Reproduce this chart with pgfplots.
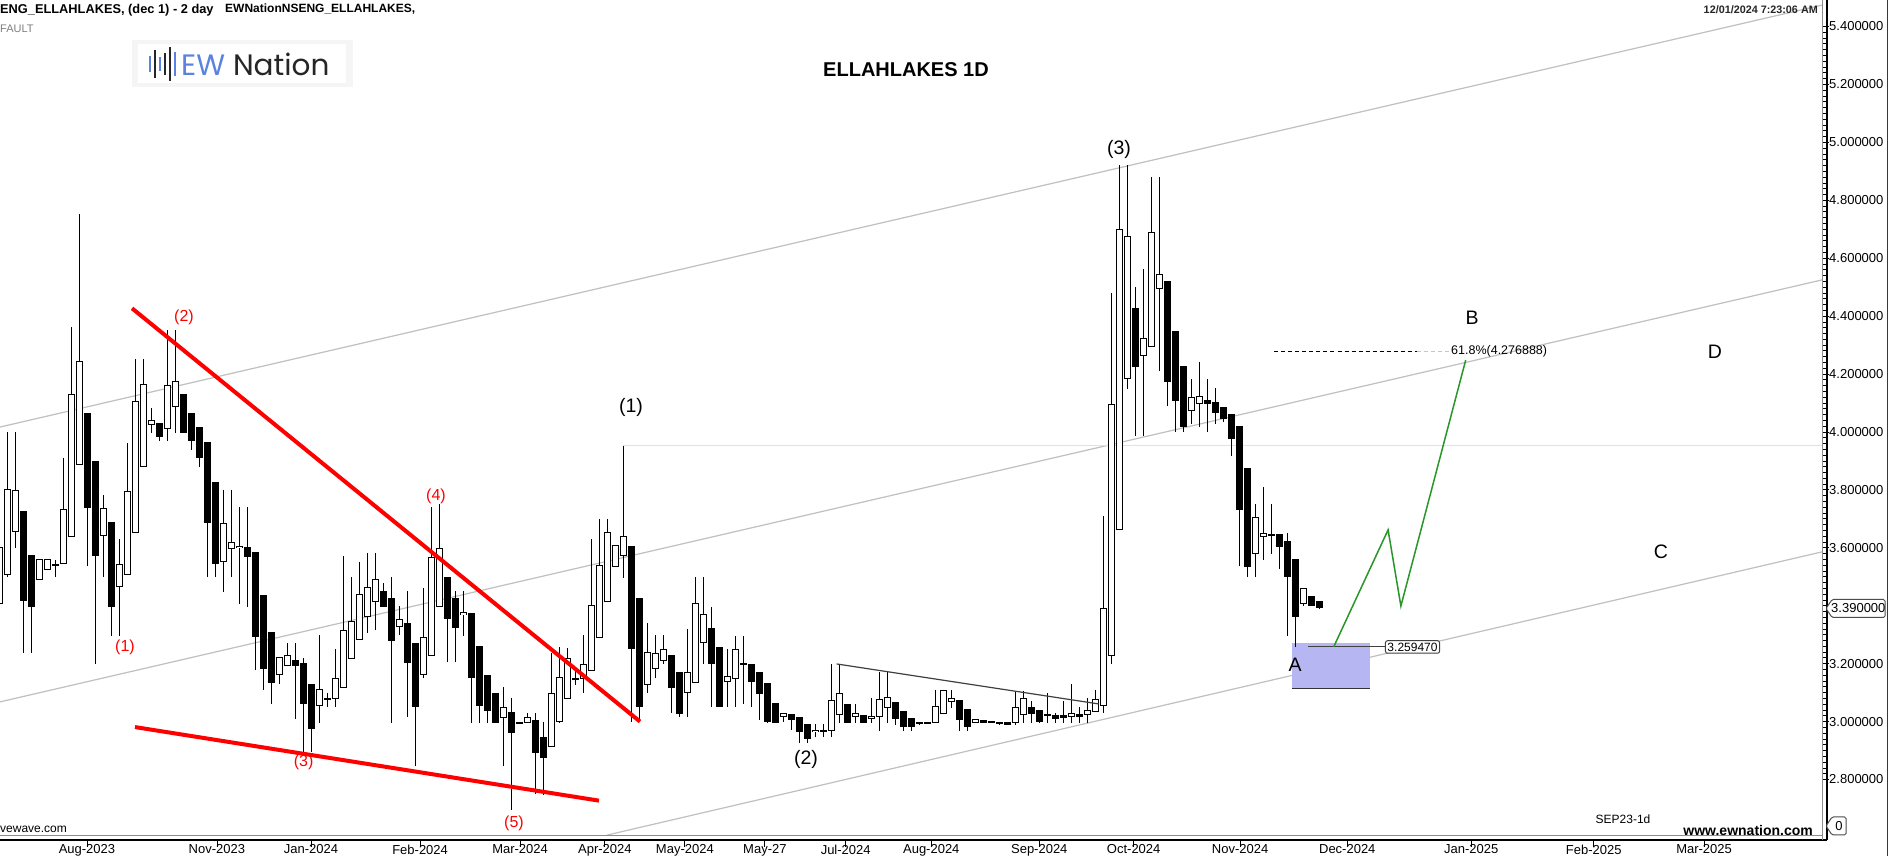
\documentclass[border=0pt]{standalone}
\usepackage{pgfplots}
\pgfplotsset{compat=1.18}
\usepackage{pgfplotstable}
\usepackage{fontspec}
\setmainfont{Liberation Sans}
\newfontfamily\logofont{Poppins}
\definecolor{chan}{RGB}{192,192,192}
\definecolor{hline}{RGB}{226,226,226}
\definecolor{ewblue}{RGB}{90,130,225}
\definecolor{boxfill}{RGB}{182,182,242}
\definecolor{gline}{RGB}{40,150,40}
\definecolor{frame}{RGB}{40,60,90}
\newcommand{\fs}[1]{\fontsize{#1}{#1}\selectfont}

% candles: index, open, high, low, close
\pgfplotstableread{
k o h l c
0 3.406 3.650 3.350 3.604
1 3.505 3.999 3.500 3.802
2 3.655 3.999 3.598 3.799
3 3.727 3.727 3.238 3.418
4 3.575 3.575 3.238 3.397
5 3.489 3.561 3.489 3.561
6 3.523 3.561 3.523 3.561
7 3.541 3.558 3.498 3.541
8 3.543 3.909 3.543 3.733
9 3.636 4.362 3.636 4.130
10 3.885 4.753 3.885 4.244
11 4.066 4.066 3.538 3.736
12 3.900 3.900 3.198 3.573
13 3.641 3.782 3.498 3.736
14 3.689 3.689 3.297 3.397
15 3.464 3.630 3.297 3.543
16 3.505 3.962 3.505 3.795
17 3.650 4.252 3.650 4.107
18 3.878 4.252 3.878 4.165
19 4.023 4.083 3.998 4.041
20 4.031 4.031 3.970 3.984
21 4.009 4.352 3.970 4.161
22 4.085 4.352 3.998 4.175
23 4.130 4.130 3.998 3.998
24 4.066 4.066 3.938 3.970
25 4.017 4.017 3.880 3.909
26 3.965 3.965 3.498 3.687
27 3.827 3.827 3.498 3.543
28 3.552 3.800 3.449 3.685
29 3.595 3.800 3.498 3.619
30 3.598 3.740 3.406 3.606
31 3.603 3.740 3.397 3.569
32 3.584 3.584 3.178 3.291
33 3.437 3.437 3.109 3.180
34 3.308 3.308 3.060 3.134
35 3.161 3.222 3.129 3.222
36 3.192 3.270 3.192 3.229
37 3.211 3.270 3.008 3.192
38 3.201 3.218 2.890 3.060
39 3.129 3.129 2.896 2.973
40 3.054 3.299 2.996 3.111
41 3.078 3.098 3.049 3.078
42 3.077 3.251 3.049 3.149
43 3.115 3.572 3.115 3.315
44 3.215 3.500 3.215 3.346
45 3.281 3.551 3.281 3.439
46 3.360 3.581 3.307 3.464
47 3.412 3.581 3.316 3.491
48 3.450 3.480 3.397 3.397
49 3.426 3.499 2.996 3.279
50 3.325 3.399 3.299 3.353
51 3.340 3.451 3.017 3.203
52 3.271 3.271 2.848 3.049
53 3.161 3.462 3.149 3.291
54 3.226 3.740 3.226 3.567
55 3.395 3.751 3.395 3.598
56 3.499 3.499 3.207 3.353
57 3.426 3.451 3.207 3.324
58 3.369 3.451 3.297 3.377
59 3.375 3.375 2.996 3.149
60 3.261 3.261 2.996 3.054
61 3.161 3.161 2.996 3.038
62 3.098 3.098 2.996 2.996
63 3.011 3.121 2.848 3.049
64 3.032 3.083 2.695 2.962
65 2.996 3.000 2.993 2.996
66 2.995 3.028 2.995 3.016
67 3.004 3.028 2.749 2.890
68 2.947 3.000 2.748 2.873
69 2.911 3.238 2.911 3.098
70 3.000 3.259 2.994 3.153
71 3.077 3.253 3.077 3.218
72 3.147 3.190 3.126 3.147
73 3.147 3.299 3.098 3.198
74 3.175 3.630 3.175 3.401
75 3.287 3.700 3.287 3.540
76 3.412 3.700 3.412 3.653
77 3.533 3.609 3.533 3.609
78 3.572 3.952 3.497 3.641
79 3.606 3.606 3.000 3.249
80 3.426 3.426 3.000 3.049
81 3.126 3.339 3.098 3.239
82 3.182 3.299 3.149 3.236
83 3.209 3.299 3.198 3.249
84 3.230 3.230 3.028 3.115
85 3.170 3.170 3.017 3.025
86 3.098 3.320 3.017 3.170
87 3.132 3.498 3.132 3.408
88 3.270 3.498 3.198 3.373
89 3.322 3.397 3.049 3.198
90 3.259 3.259 3.049 3.049
91 3.135 3.249 3.049 3.157
92 3.147 3.297 3.049 3.249
93 3.199 3.297 3.060 3.199
94 3.199 3.199 3.049 3.137
95 3.170 3.170 3.005 3.094
96 3.132 3.132 2.994 3.000
97 3.065 3.065 2.996 2.996
98 3.015 3.031 3.000 3.031
99 3.026 3.026 2.971 3.007
100 3.015 3.015 2.927 2.963
101 2.990 2.990 2.927 2.939
102 2.963 2.990 2.948 2.971
103 2.968 2.990 2.948 2.968
104 2.966 3.199 2.948 3.073
105 3.022 3.199 2.996 3.098
106 3.061 3.061 2.996 2.996
107 3.015 3.061 2.996 3.029
108 3.023 3.023 2.996 2.996
109 3.010 3.080 2.996 3.019
110 3.015 3.170 2.969 3.077
111 3.046 3.172 2.996 3.084
112 3.066 3.066 2.988 3.008
113 3.035 3.035 2.969 2.982
114 3.011 3.011 2.969 2.980
115 2.996 2.996 2.988 2.996
116 2.996 2.996 2.996 2.996
117 2.996 3.109 2.996 3.053
118 3.025 3.109 3.025 3.108
119 3.066 3.109 3.048 3.080
120 3.074 3.074 2.969 3.005
121 3.042 3.042 2.969 2.982
122 2.996 3.010 2.996 3.010
123 3.004 3.004 2.996 2.996
124 3.000 3.000 2.996 2.996
125 3.000 3.000 2.988 2.992
126 2.998 2.998 2.989 2.989
127 2.994 3.107 2.989 3.050
128 3.022 3.107 2.996 3.080
129 3.050 3.070 2.996 3.027
130 3.039 3.039 2.996 3.000
131 3.026 3.098 2.996 3.020
132 3.021 3.029 2.996 3.008
133 3.019 3.070 2.996 3.015
134 3.015 3.129 2.996 3.031
135 3.025 3.051 2.996 3.017
136 3.022 3.080 2.996 3.041
137 3.032 3.109 3.032 3.077
138 3.054 3.711 3.030 3.393
139 3.226 4.480 3.200 4.096
140 3.660 4.922 3.660 4.700
141 4.182 4.922 4.150 4.675
142 4.429 4.500 3.987 4.225
143 4.261 4.562 3.987 4.326
144 4.295 4.881 4.295 4.690
145 4.493 4.881 4.209 4.545
146 4.521 4.521 4.090 4.172
147 4.348 4.348 4.000 4.108
148 4.228 4.228 4.000 4.016
149 4.071 4.184 4.028 4.120
150 4.096 4.241 4.018 4.123
151 4.110 4.184 4.000 4.098
152 4.104 4.153 4.028 4.064
153 4.085 4.085 4.035 4.044
154 4.061 4.061 3.917 3.975
155 4.021 4.021 3.538 3.732
156 3.876 3.876 3.498 3.535
157 3.578 3.751 3.498 3.705
158 3.639 3.810 3.559 3.650
159 3.645 3.751 3.578 3.645
160 3.649 3.649 3.528 3.602
161 3.622 3.652 3.294 3.498
162 3.562 3.562 3.259 3.362
163 3.405 3.460 3.400 3.460
164 3.432 3.432 3.399 3.399
165 3.415 3.415 3.390 3.393
}\candles

\pgfplotsset{candle/.style={only marks, mark=*, mark size=0pt,
  mark options={draw opacity=0, fill opacity=0}, forget plot,
  error bars/.cd, y dir=both, y explicit, error mark=none}}

\begin{document}
\begin{tikzpicture}[x=1pt,y=1pt]
\fill[white] (0,0) rectangle (1889,856);

\begin{scope}[yshift=16pt]
\begin{axis}[
  anchor=south west,
  scale only axis, width=1822pt, height=840pt,
  xmin=0.0875, xmax=227.84, ymin=2.5911, ymax=5.4916,
  axis line style={draw=none},
  xtick pos=bottom, ytick pos=right,
  tick align=outside,
  major tick length=7pt, minor tick length=4pt,
  tick style={black, line width=0.8pt},
  minor y tick num=9,
  ytick={2.8,3.0,3.2,3.4,3.6,3.8,4.0,4.2,4.4,4.6,4.8,5.0,5.2,5.4},
  yticklabels={2.800000,3.000000,3.200000,,3.600000,3.800000,4.000000,4.200000,4.400000,4.600000,4.800000,5.000000,5.200000,5.400000},
  yticklabel style={font=\fs{13}, anchor=west, inner sep=0pt, xshift=0pt},
  xtick={10.96,27.2,38.96,52.6,65.1,75.7,85.7,95.7,105.8,116.5,130,141.8,155.1,168.5,184,199.3,213.1},
  xticklabels={Aug-2023,Nov-2023,Jan-2024,Feb-2024,Mar-2024,Apr-2024,May-2024,May-27,Jul-2024,Aug-2024,Sep-2024,Oct-2024,Nov-2024,Dec-2024,Jan-2025,Feb-2025,Mar-2025},
  xticklabel style={font=\fs{13}, anchor=north, inner sep=0pt, yshift=2.5pt},
]
% channel
\addplot[chan, line width=1.2pt, forget plot] coordinates {(0.0875,4.017) (227.84,5.474)};
\addplot[chan, line width=1.2pt, forget plot] coordinates {(0.0875,3.068) (227.84,4.525)};
\addplot[chan, line width=1.2pt, forget plot] coordinates {(75.96,2.608) (227.84,3.586)};
\addplot[hline, line width=1pt, forget plot] coordinates {(78,3.952) (227.84,3.952)};
% target box
\addplot[draw=none, fill=boxfill, forget plot] coordinates {(161.65,3.115) (171.3,3.115) (171.3,3.272) (161.65,3.272)} -- cycle;
\addplot[black!80, line width=1.2pt, forget plot] coordinates {(161.65,3.115) (171.3,3.115)};
\addplot[black!75, line width=1.2pt, forget plot] coordinates {(163.6,3.2595) (173.2,3.2595)};

% wicks
\addplot[candle, error bar style={line width=1pt, black, solid}]
  table[x=k, y expr={(\thisrow{h}+\thisrow{l})/2}, y error expr={(\thisrow{h}-\thisrow{l})/2}] {\candles};
% bodies
\addplot[candle, error bar style={line width=7pt, black, solid}]
  table[x=k, y expr={(\thisrow{o}+\thisrow{c})/2}, y error expr={max(abs(\thisrow{o}-\thisrow{c})/2,0.004)}] {\candles};
\addplot[candle, error bar style={line width=5pt, white, solid}]
  table[x=k, y expr={(\thisrow{o}+\thisrow{c})/2}, y error expr={(\thisrow{c}>\thisrow{o})*max(abs(\thisrow{o}-\thisrow{c})/2-0.00345,0)}] {\candles};

% wedge lines
\addplot[red, line width=4pt, forget plot] coordinates {(16.59,4.427) (80.09,3.0)};
\addplot[red, line width=4pt, forget plot] coordinates {(16.96,2.981) (74.96,2.727)};
\addplot[black!75, line width=1.2pt, forget plot] coordinates {(104.67,3.199) (137.4,3.061)};
% projection
\addplot[gline, line width=1.5pt, forget plot] coordinates {(166.8,3.258) (173.6,3.662) (175.2,3.399) (183.3,4.248)};
% fib level
\addplot[black, line width=1pt, dash pattern=on 4pt off 3pt, forget plot] coordinates {(159.4,4.2769) (177.2,4.2769)};
\addplot[blue!25, line width=1pt, dash pattern=on 4pt off 3pt, forget plot] coordinates {(177.2,4.2769) (181.4,4.2769)};
\end{axis}
\end{scope}

% axis frame lines
\draw[black!45, line width=1pt] (0,20) -- (1822,20);
\draw[black, line width=1.3pt] (0,16) -- (1827,16);
\draw[black!45, line width=0.8pt] (1822,16) -- (1822,856);
\draw[black, line width=1.3pt] (1827,16) -- (1827,856);
\draw[frame, line width=1.8pt] (1887.5,0) -- (1887.5,856);

% price markers
\draw[black!70, line width=1pt, fill=white, rounded corners=1.5pt] (1832,238.5) -- (1885,238.5) -- (1885,256.5) -- (1832,256.5) -- (1826,247.5) -- cycle;
\node[font=\fs{13}, anchor=west, inner sep=0pt] at (1831,247.5) {3.390000};
\draw[black!70, line width=1pt, fill=white, rounded corners=1.5pt] (1832,21) -- (1846,21) -- (1846,39) -- (1832,39) -- (1826,30) -- cycle;
\node[font=\fs{13}, inner sep=0pt] at (1839,30) {0};

% header
\node[font=\bfseries\fs{12.8}, anchor=west, inner sep=0pt] at (0,846) {ENG\_ELLAHLAKES, (dec 1) - 2 day};
\node[font=\bfseries\fs{12}, anchor=west, inner sep=0pt] at (225,847) {EWNationNSENG\_ELLAHLAKES,};
\node[font=\fs{11}, anchor=west, inner sep=0pt, text=black!50] at (0,827) {FAULT};
\node[font=\bfseries\fs{10.8}, anchor=east, inner sep=0pt, text=black!85] at (1818,846) {12/01/2024 7:23:06 AM};
\node[font=\bfseries\fs{20}, inner sep=0pt] at (906,786) {ELLAHLAKES 1D};

% logo
\fill[black!4] (132,769) rectangle (353,816);
\fill[white] (138,773) rectangle (346,812);
\foreach \xx/\hh/\cc in {150/8/ewblue,155/14/black!85,160/7/ewblue,165/11/black!85,170/17/black!85,175/12/ewblue}
  \draw[\cc, line width=2.2pt] (\xx,792-\hh) -- (\xx,792+\hh);
\node[anchor=west, inner sep=0pt, font=\logofont\fs{29.5}] at (181,792) {\textcolor{ewblue}{EW} \textcolor{black!85}{Nation}};

% wave labels
\begin{scope}[every node/.style={inner sep=0pt, font=\fs{16}, text=red}]
\node at (184,539) {(2)};
\node at (125,209) {(1)};
\node at (436,360) {(4)};
\node at (303.6,93.4) {(3)};
\node at (514,33) {(5)};
\end{scope}
\begin{scope}[every node/.style={inner sep=0pt, font=\fs{19.5}}]
\node at (631,449) {(1)};
\node at (806,97) {(2)};
\node at (1119,707) {(3)};
\node at (1295,191) {A};
\node at (1472,538) {B};
\node at (1661,304) {C};
\node at (1715,504) {D};
\end{scope}

% level labels
\node[font=\fs{12.5}, anchor=west, inner sep=0pt] at (1451,505) {61.8\%(4.276888)};
\node[draw=black!75, line width=1pt, rounded corners=2pt, fill=white, font=\fs{12}, inner sep=2pt] at (1412.5,209) {3.259470};

% footer
\node[font=\fs{12}, anchor=west, inner sep=0pt] at (0,27) {vewave.com};
\node[font=\fs{12}, inner sep=0pt] at (1623,37) {SEP23-1d};
\node[font=\bfseries\fs{14}, anchor=east, inner sep=0pt] at (1813,26) {www.ewnation.com};

\pgfresetboundingbox
\useasboundingbox (0,0) rectangle (1889,856);
\end{tikzpicture}
\end{document}
